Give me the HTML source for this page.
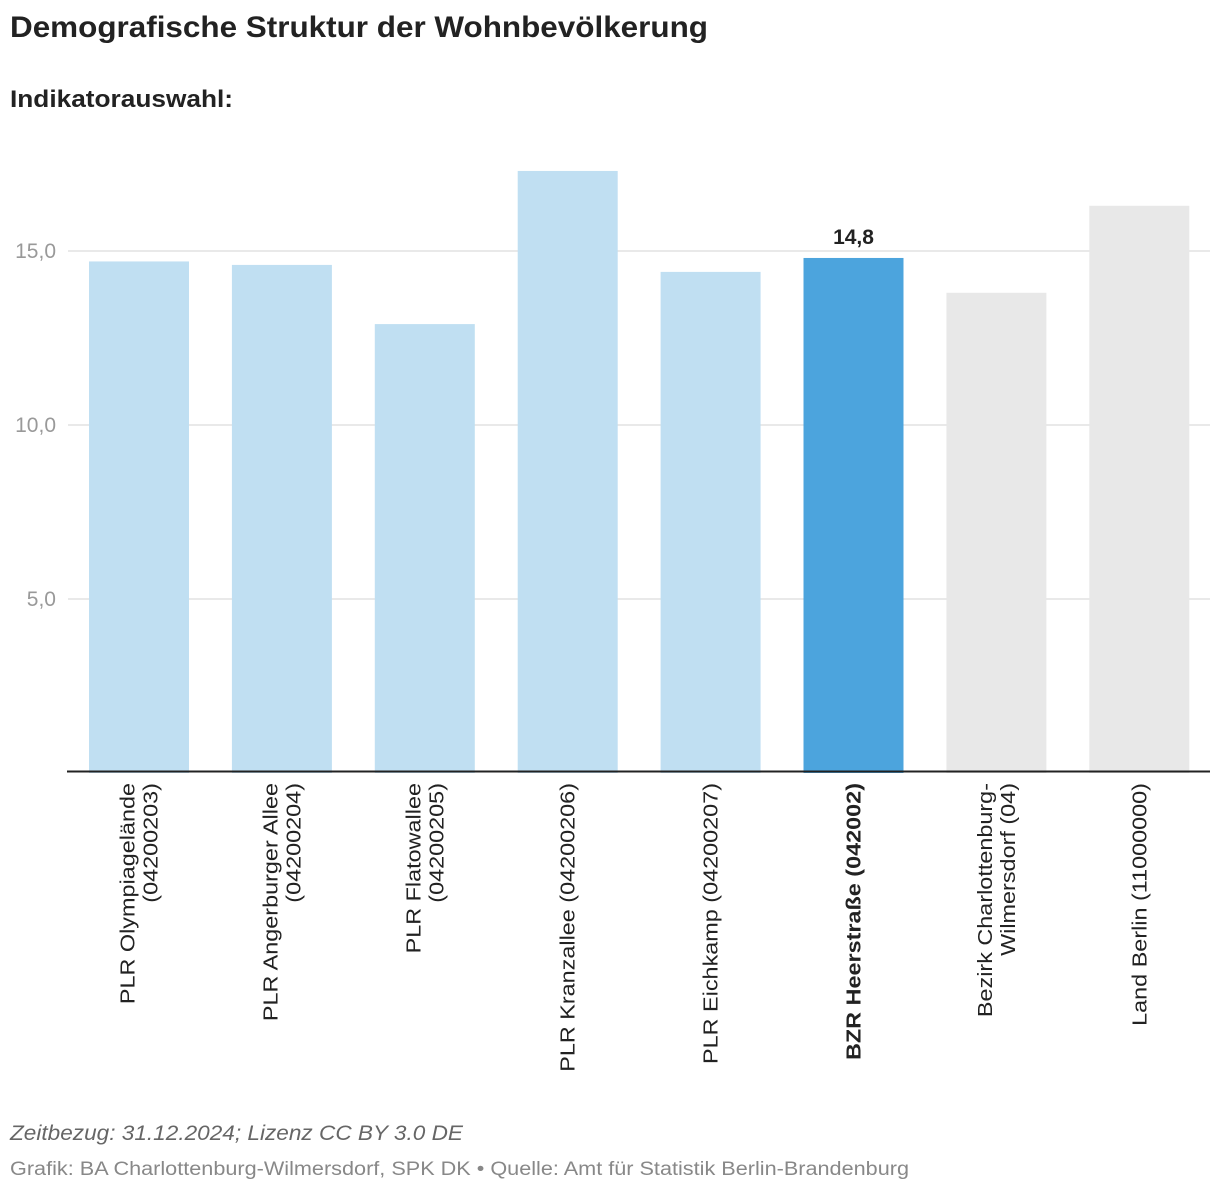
<!DOCTYPE html>
<html><head><meta charset="utf-8"><style>
body{margin:0;background:#fff;font-family:"Liberation Sans",sans-serif;}
</style></head><body>
<svg width="1220" height="1194" xmlns="http://www.w3.org/2000/svg" font-family="Liberation Sans, sans-serif">
<text x="10" y="37" font-size="30" font-weight="bold" fill="#222" textLength="698" lengthAdjust="spacingAndGlyphs">Demografische Struktur der Wohnbevölkerung</text>
<text x="10" y="107" font-size="24" font-weight="bold" fill="#222" textLength="223" lengthAdjust="spacingAndGlyphs">Indikatorauswahl:</text>
<g id="grid"></g><g id="bars"></g><g id="xlabels"></g>
<text x="10" y="1140" font-size="21" font-style="italic" fill="#666" textLength="453" lengthAdjust="spacingAndGlyphs">Zeitbezug: 31.12.2024; Lizenz CC BY 3.0 DE</text>
<text x="10" y="1175" font-size="19" fill="#888" textLength="899" lengthAdjust="spacingAndGlyphs">Grafik: BA Charlottenburg-Wilmersdorf, SPK DK • Quelle: Amt für Statistik Berlin-Brandenburg</text>
</svg>
<script>
const categories=[["PLR Olympiagelände","(04200203)"],["PLR Angerburger Allee","(04200204)"],["PLR Flatowallee","(04200205)"],["PLR Kranzallee (04200206)"],["PLR Eichkamp (04200207)"],["BZR Heerstraße (042002)"],["Bezirk Charlottenburg-","Wilmersdorf (04)"],["Land Berlin (11000000)"]];
const values=[14.7,14.6,12.9,17.3,14.4,14.8,13.8,16.3];
const kinds=["plr","plr","plr","plr","plr","bzr","ref","ref"];
const ticks=[5,10,15];
const tickLabels=["5,0","10,0","15,0"];
const NS="http://www.w3.org/2000/svg";
const y=v=>773-v*34.8;
const x0=67,band=142.9;
const cx=i=>x0+band*i+72;
function mk(t,a,p){const e=document.createElementNS(NS,t);for(const k in a)e.setAttribute(k,a[k]);p.appendChild(e);return e;}
const g=document.getElementById('grid'),b=document.getElementById('bars'),xl=document.getElementById('xlabels');
ticks.forEach((t,i)=>{
 const l=mk('line',{x1:68,x2:1210,y1:y(t),y2:y(t),stroke:'#e2e2e2','stroke-width':1.5},g);
 
 
 const tx=mk('text',{x:56,y:y(t)+7,'text-anchor':'end','font-size':21,fill:'#999'},g);
 tx.textContent=tickLabels[i];
 
 
});
const col={plr:'#c0dff2',bzr:'#4ca4dd',ref:'#e8e8e8'};
values.forEach((v,i)=>{
 const r=mk('rect',{x:cx(i)-50,y:y(v),width:100,height:y(0)-y(v),fill:col[kinds[i]]},b);
 
 
 if(kinds[i]==='bzr'){
  const t=mk('text',{x:cx(i),y:y(v)-14,'text-anchor':'middle','font-size':21,'font-weight':'bold',fill:'#222'},b);
  t.textContent=v.toFixed(1).replace('.',',');
  
  
 }
 const lines=categories[i];
 lines.forEach((s,j)=>{
  const off=(j-(lines.length-1)/2)*23;
  const xx=cx(i)+7+off;
  const t=mk('text',{x:xx,y:783,transform:`rotate(-90 ${xx} 783)`,'text-anchor':'end','font-size':20,fill:'#222','font-weight':kinds[i]==='bzr'?'bold':'normal'},xl);
  t.textContent=s;
  
  
  const w=t.getComputedTextLength();
  t.setAttribute('textLength',w*1.17);
  t.setAttribute('lengthAdjust','spacingAndGlyphs');
 });
});
const ax=mk('line',{x1:67,x2:1210,y1:771.5,y2:771.5,stroke:'#222','stroke-width':2},b);


</script>
</body></html>
